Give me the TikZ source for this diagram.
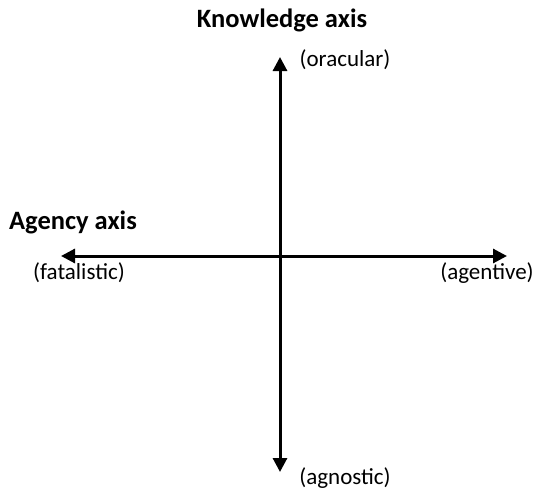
\documentclass[tikz,border=0pt]{standalone}
\usepackage{fontspec}
\setmainfont{Carlito}
\usetikzlibrary{arrows.meta}
\begin{document}
\begin{tikzpicture}[x=1pt,y=-1pt,
  axisline/.style={line width=3pt,-{Triangle[length=14pt,width=14pt]}},
  title/.style={font=\fontsize{26.5}{30}\selectfont\bfseries,inner sep=0pt},
  pole/.style={font=\fontsize{23}{27}\selectfont,inner sep=0pt}]
  \useasboundingbox (0,0) rectangle (536,493);
  % axis origin and end points
  \coordinate (o) at (280,256);
  \coordinate (top) at (280,57);
  \coordinate (bottom) at (280,472);
  \coordinate (left) at (61,256);
  \coordinate (right) at (507,256);
  % the two axes
  \draw[axisline] (o) -- (top);
  \draw[axisline] (o) -- (bottom);
  \draw[axisline] (o) -- (left);
  \draw[axisline] (o) -- (right);
  % labels
  \node[title] (kaxis) at (282,20) {Knowledge axis};
  \node[title] (aaxis) at (73,222) {Agency axis};
  \node[pole] (orac) at (345,60) {(oracular)};
  \node[pole] (agno) at (345,478) {(agnostic)};
  \node[pole] (fata) at (79,273) {(fatalistic)};
  \node[pole] (agen) at (487,273) {(agentive)};
\end{tikzpicture}
\end{document}
